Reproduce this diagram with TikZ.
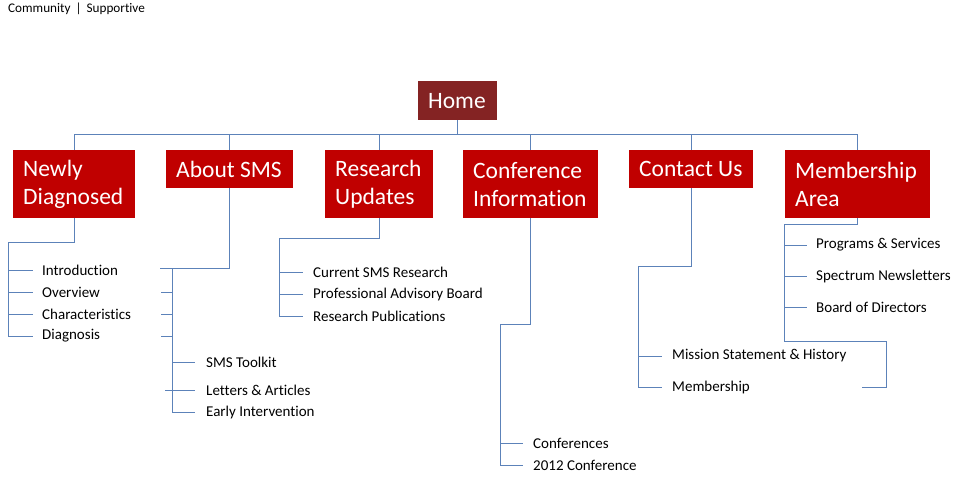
\documentclass[tikz,border=0pt]{standalone}
\usepackage{fontspec}
\setmainfont{Carlito}[Ligatures=CommonOff]
\newfontfamily\boxfont[Ligatures=CommonOff]{Carlito}
\definecolor{boxred}{RGB}{192,0,0}
\definecolor{homered}{RGB}{132,35,35}
\definecolor{linkblue}{RGB}{92,130,185}
\tikzset{
  topbox/.style={fill=boxred, text=white, anchor=north west, inner xsep=10pt, inner ysep=0pt,
    align=flush left, font=\boxfont\fontsize{23.5}{28}\selectfont},
  leaf/.style={anchor=west, inner sep=0pt, font=\fontsize{15}{17}\selectfont},
  conn/.style={draw=linkblue, line width=0.9pt},
}
\begin{document}
\begin{tikzpicture}[x=1pt,y=-1pt]
\useasboundingbox (0,0) rectangle (954,495);
\node[anchor=west, inner sep=0pt, font=\fontsize{13.2}{15}\selectfont] (tag) at (8,9) {Community\hspace{5pt}|\hspace{5pt}Supportive};

\node[topbox, fill=homered, text width=59pt, minimum height=39pt] (home) at (418,81) {Home};
\node[topbox, text width=102pt, minimum height=68pt] (nd) at (13,150) {Newly\\Diagnosed};
\node[topbox, text width=107pt, minimum height=38pt] (about) at (166,150) {About~SMS};
\node[topbox, text width=88pt, minimum height=68pt] (res) at (325,150) {Research\\Updates};
\node[topbox, text width=115pt, minimum height=68pt] (conf) at (463,150) {Conference\\Information};
\node[topbox, text width=104pt, minimum height=38pt] (cont) at (629,150) {Contact~Us};
\node[topbox, text width=125pt, minimum height=68pt] (memb) at (785,150) {Membership\\Area};

\coordinate (bus) at (0,134);
\draw[conn] (home.south) -- (home.south |- bus);
\draw[conn] (nd.north) -- (nd.north |- bus) -- (memb.north |- bus) -- (memb.north);
\foreach \b in {about,res,conf,cont} \draw[conn] (\b.north) -- (\b.north |- bus);

% Newly Diagnosed leaves
\node[leaf] (intro) at (42,270) {Introduction};
\node[leaf] (over) at (42,292) {Overview};
\node[leaf] (char) at (42,314) {Characteristics};
\node[leaf] (diag) at (42,336) {Diagnosis};
\coordinate (ndv) at (8,242);
\draw[conn] (nd.south) -- (nd.south |- ndv) -- (ndv) -- (ndv |- diag.west) -- ([xshift=-9pt]diag.west);
\foreach \l in {intro,over,char} \draw[conn] (ndv |- \l.west) -- ([xshift=-9pt]\l.west);

% About SMS leaves
\node[leaf] (tool) at (206,362) {SMS Toolkit};
\node[leaf] (lett) at (206,390) {Letters \& Articles};
\node[leaf] (early) at (206,412) {Early Intervention};
\coordinate (abv) at (172,268);
\draw[conn] (about.south) -- (about.south |- abv) -- (160,268);
\draw[conn] (abv) -- (abv |- early.west) -- ([xshift=-11pt]early.west);
\foreach \yy in {292,314,336} \draw[conn] (161,\yy) -- (172,\yy);
\draw[conn] (abv |- tool.west) -- ([xshift=-11pt]tool.west);
\draw[conn] (165,390) -- ([xshift=-11pt]lett.west);

% Research leaves
\node[leaf] (cur) at (313,272) {Current SMS Research};
\node[leaf] (prof) at (313,294) {Professional Advisory Board};
\node[leaf] (pub) at (313,316) {Research Publications};
\coordinate (rsv) at (279,238);
\draw[conn] (res.south) -- (res.south |- rsv) -- (rsv) -- (rsv |- pub.west) -- ([xshift=-10pt]pub.west);
\foreach \l in {cur,prof} \draw[conn] (rsv |- \l.west) -- ([xshift=-10pt]\l.west);

% Conference leaves
\node[leaf] (confs) at (533,443) {Conferences};
\node[leaf] (c2012) at (533,465) {2012 Conference};
\coordinate (cfv) at (500,324);
\draw[conn] (conf.south) -- (conf.south |- cfv) -- (cfv) -- (cfv |- c2012.west) -- ([xshift=-10pt]c2012.west);
\draw[conn] (cfv |- confs.west) -- ([xshift=-10pt]confs.west);

% Contact leaves
\node[leaf] (miss) at (672,356) {Mission Statement \& History};
\node[leaf] (mem) at (672,387) {Membership};
\coordinate (ctv) at (638,266);
\draw[conn] (cont.south) -- (cont.south |- ctv) -- (ctv) -- (ctv |- mem.west) -- ([xshift=-10pt]mem.west);
\draw[conn] (ctv |- miss.west) -- ([xshift=-10pt]miss.west);

% Membership Area leaves
\node[leaf] (prog) at (816,245) {Programs \& Services};
\node[leaf] (spec) at (816,276) {Spectrum Newsletters};
\node[leaf] (board) at (816,307) {Board of Directors};
\coordinate (mbv) at (784,224);
\coordinate (mbr) at (886,341);
\coordinate (mbend) at (862,387);
\draw[conn] (memb.south) -- (memb.south |- mbv) -- (mbv) -- (mbv |- mbr) -- (mbr) -- (mbr |- mbend) -- (mbend);
\foreach \l in {prog,spec,board} \draw[conn] (mbv |- \l.west) -- ([xshift=-9pt]\l.west);
\end{tikzpicture}
\end{document}
